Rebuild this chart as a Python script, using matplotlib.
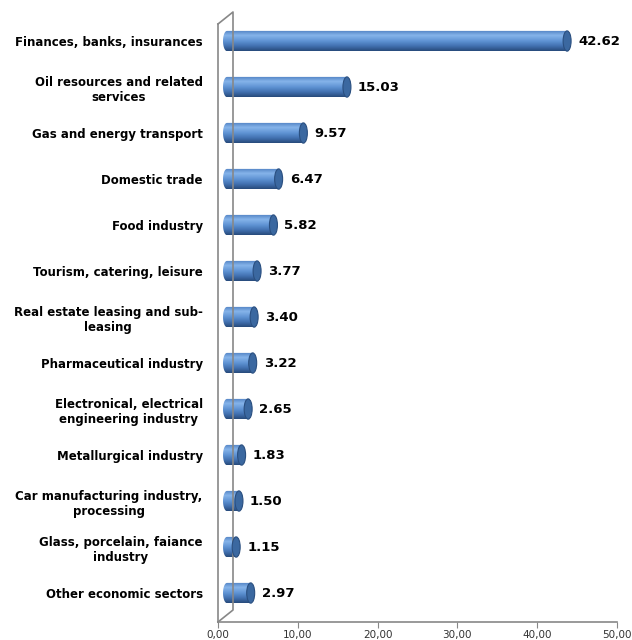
import numpy as np
import matplotlib.pyplot as plt
from matplotlib.path import Path
from matplotlib.patches import PathPatch, Ellipse
from matplotlib.colors import LinearSegmentedColormap
import matplotlib.transforms as mtransforms

# datos del grafico
sectores = ["Finances, banks, insurances",
            "Oil resources and related\nservices",
            "Gas and energy transport",
            "Domestic trade",
            "Food industry",
            "Tourism, catering, leisure",
            "Real estate leasing and sub-\nleasing",
            "Pharmaceutical industry",
            "Electronical, electrical\nengineering industry",
            "Metallurgical industry",
            "Car manufacturing industry,\nprocessing",
            "Glass, porcelain, faiance\nindustry",
            "Other economic sectors"]
valores = [42.62, 15.03, 9.57, 6.47, 5.82, 3.77, 3.40, 3.22, 2.65, 1.83, 1.50, 1.15, 2.97]
ticks_x = [0, 10, 20, 30, 40, 50]
etiquetas_x = ["0,00", "10,00", "20,00", "30,00", "40,00", "50,00"]

fig = plt.figure(figsize=(6.32, 6.40), dpi=100)
ax = fig.add_axes([218/632, 18/640, 399/632, 598/640])
ax.set_xlim(0, 50)
ax.set_ylim(12.63, -0.37)

# desplazamiento por la profundidad 3D
desp = mtransforms.ScaledTranslation(0.09, 0, fig.dpi_scale_trans)
trans = ax.transData + desp
trans_txt = ax.transData + mtransforms.ScaledTranslation(0.20, 0, fig.dpi_scale_trans)

cmap = LinearSegmentedColormap.from_list("cil", ["#4f80c2", "#86b4ea", "#6296d6", "#4373b3", "#284b7c"])
grad = np.linspace(0, 1, 64).reshape(-1, 1)

h = 0.44
a = 0.5  # semi-eje horizontal de la elipse (datos)
t = np.linspace(np.pi / 2, 3 * np.pi / 2, 30)
for i, v in enumerate(valores):
    # cuerpo del cilindro con el extremo izquierdo redondeado
    arco_x = a * np.cos(t)
    arco_y = i - (h / 2) * np.sin(t)
    verts = np.vstack([[v, i - h / 2], np.column_stack([arco_x, arco_y]), [v, i + h / 2], [v, i - h / 2]])
    cuerpo = PathPatch(Path(verts), facecolor="none", edgecolor="none", transform=trans)
    ax.add_patch(cuerpo)
    im = ax.imshow(grad, cmap=cmap, aspect="auto", extent=(-a, v, i + h / 2, i - h / 2),
                   origin="upper", transform=trans, zorder=2)
    im.set_clip_path(cuerpo)
    tapa = Ellipse((v, i), 2 * a, h, facecolor="#3b68a0", edgecolor="#2a4f80", linewidth=0.8,
                   transform=trans, zorder=3)
    ax.add_patch(tapa)
    ax.text(v, i, f"{v:.2f}", transform=trans_txt,
            va="center", ha="left", fontsize=9.5, fontweight="bold", color="black")

ax.set_xlim(0, 50)
ax.set_yticks(range(len(sectores)))
ax.set_yticklabels(sectores, fontsize=8.5, fontweight="bold", multialignment="center")
ax.tick_params(axis="y", length=0, pad=11)
ax.set_xticks(ticks_x)
ax.set_xticklabels(etiquetas_x, fontsize=7.5, color="#333333")
ax.tick_params(axis="x", direction="out", length=4, color="#888888", pad=1.5)

for s in ["top", "right"]:
    ax.spines[s].set_visible(False)
for s in ["left", "bottom"]:
    ax.spines[s].set_color("#888888")
    ax.spines[s].set_linewidth(1.2)

# pared del fondo (3D)
ax.plot([0, 15/399, 15/399, 0], [1.0, 1.0 + 12/598, 12/598, 0.0], transform=ax.transAxes,
        color="#888888", linewidth=1.2, clip_on=False)

fig.savefig("out.png", dpi=100)
